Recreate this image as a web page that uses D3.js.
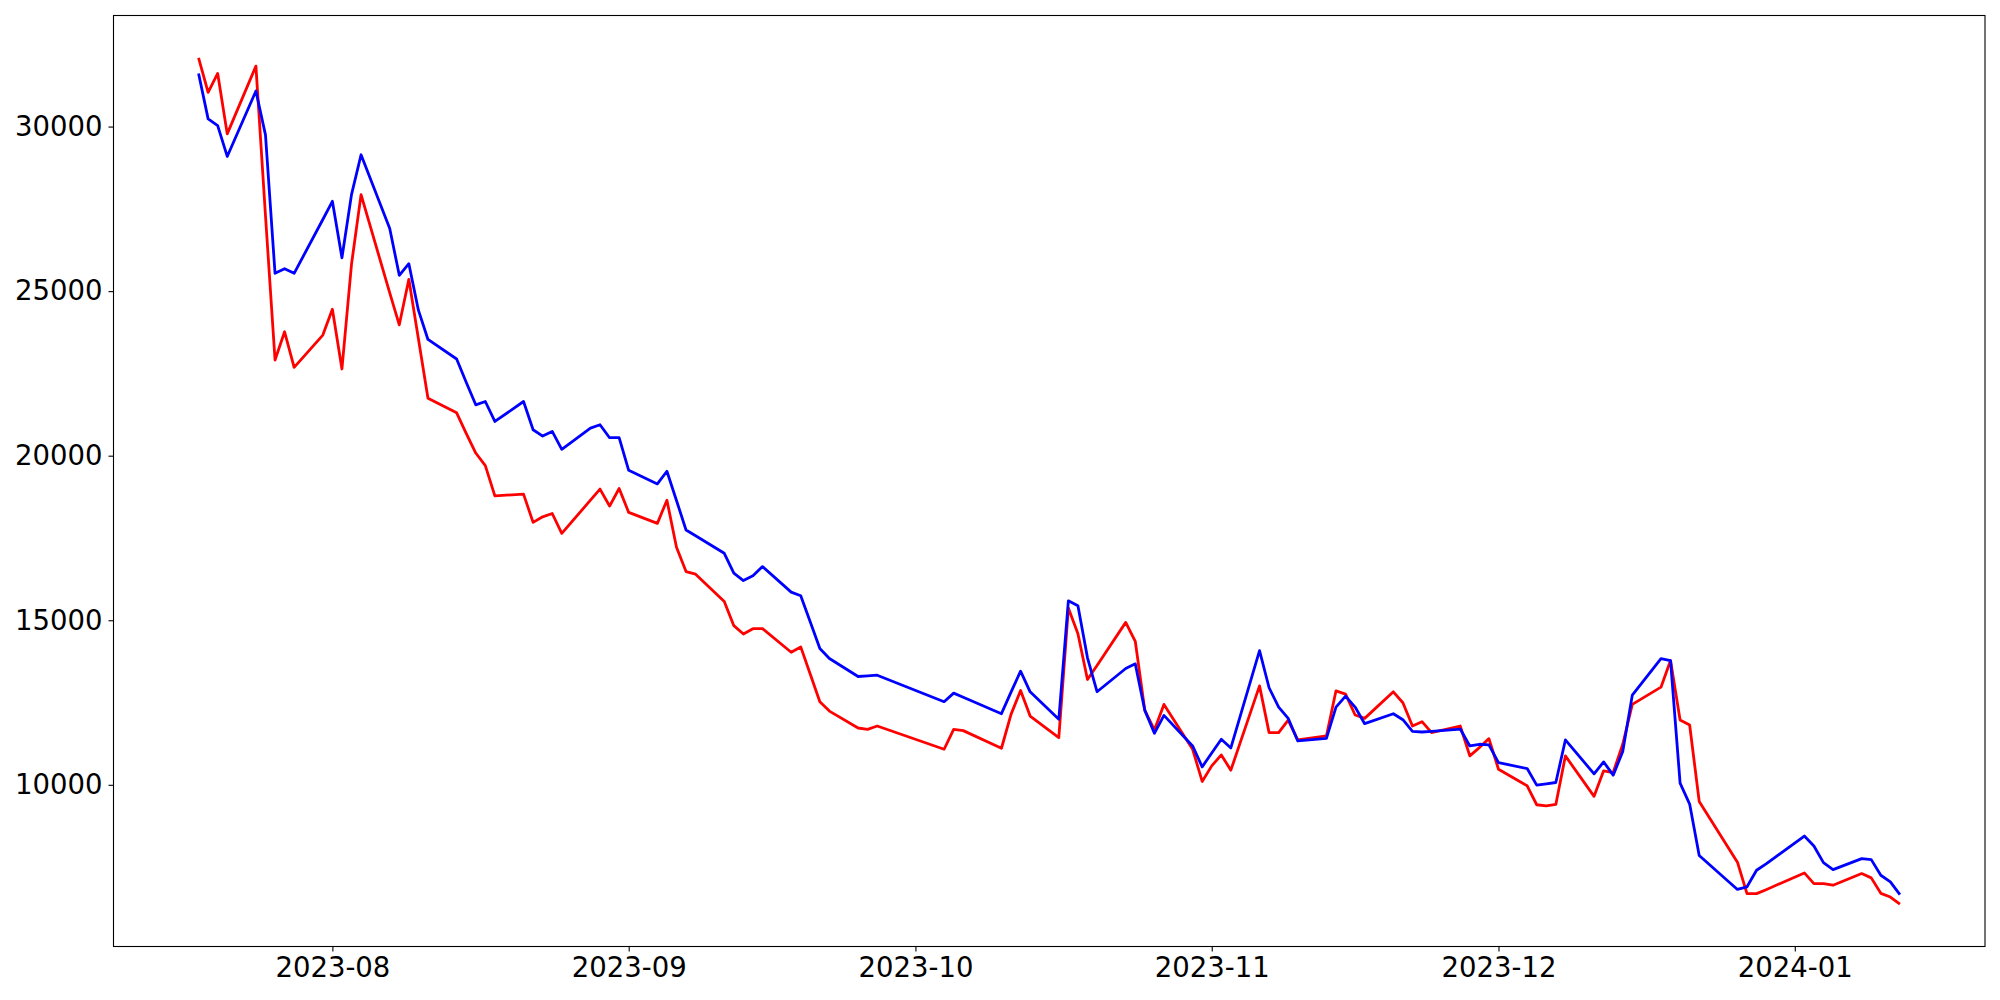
<!DOCTYPE html>
<html>
<head>
<meta charset="utf-8">
<script src="https://cdn.jsdelivr.net/npm/d3@7"></script>
<style>
  body { margin: 0; background: #ffffff; }
  svg text { font-family: "DejaVu Sans", sans-serif; }
</style>
</head>
<body>
<svg id="chart" width="2000" height="1000"></svg>
<script>
// ---- data ----
const dates = [
  "2023-07-18","2023-07-19","2023-07-20","2023-07-21","2023-07-24","2023-07-25","2023-07-26","2023-07-27","2023-07-28","2023-07-31",
  "2023-08-01","2023-08-02","2023-08-03","2023-08-04","2023-08-07","2023-08-08","2023-08-09","2023-08-10","2023-08-11","2023-08-14",
  "2023-08-15","2023-08-16","2023-08-17","2023-08-18","2023-08-21","2023-08-22","2023-08-23","2023-08-24","2023-08-25","2023-08-28",
  "2023-08-29","2023-08-30","2023-08-31","2023-09-01","2023-09-04","2023-09-05","2023-09-06","2023-09-07","2023-09-08","2023-09-11",
  "2023-09-12","2023-09-13","2023-09-14","2023-09-15","2023-09-18","2023-09-19","2023-09-20","2023-09-21","2023-09-22","2023-09-25",
  "2023-09-26","2023-09-27","2023-10-04","2023-10-05","2023-10-06","2023-10-10","2023-10-11","2023-10-12","2023-10-13","2023-10-16",
  "2023-10-17","2023-10-18","2023-10-19","2023-10-20","2023-10-23","2023-10-24","2023-10-25","2023-10-26","2023-10-27","2023-10-30",
  "2023-10-31","2023-11-01","2023-11-02","2023-11-03","2023-11-06","2023-11-07","2023-11-08","2023-11-09","2023-11-10","2023-11-13",
  "2023-11-14","2023-11-15","2023-11-16","2023-11-17","2023-11-20","2023-11-21","2023-11-22","2023-11-23","2023-11-24","2023-11-27",
  "2023-11-28","2023-11-29","2023-11-30","2023-12-01","2023-12-04","2023-12-05","2023-12-06","2023-12-07","2023-12-08","2023-12-11",
  "2023-12-12","2023-12-13","2023-12-14","2023-12-15","2023-12-18","2023-12-19","2023-12-20","2023-12-21","2023-12-22","2023-12-26",
  "2023-12-27","2023-12-28","2023-12-29","2024-01-02","2024-01-03","2024-01-04","2024-01-05","2024-01-08","2024-01-09","2024-01-10",
  "2024-01-11","2024-01-12"
];

const redValues = [
  32089,31038,31613,29779,31837,27297,22907,23764,22684,23664,
  24451,22635,25814,27933,24945,23976,25359,23553,21745,21303,
  20680,20081,19700,18780,18831,17973,18143,18244,17640,18648,
  18985,18470,19003,18277,17944,18648,17217,16480,16400,15571,
  14835,14583,14744,14744,14028,14190,13360,12525,12240,11726,
  11686,11787,11081,11686,11646,11111,12140,12866,12089,11435,
  15370,14592,13200,13624,14935,14360,12261,11666,12443,11081,
  10102,10575,10908,10445,13006,11585,11585,11968,11363,11484,
  12856,12755,12120,12019,12826,12493,11787,11918,11585,11787,
  10878,11131,11403,10474,9969,9394,9363,9404,10878,9649,
  10424,10373,11232,12443,12967,13775,11968,11817,9496,7650,
  6693,6693,6814,7323,6999,6999,6949,7303,7172,6703,
  6590,6373
];

const blueValues = [
  31613,30233,30030,29092,31081,29748,25541,25681,25541,27176,
  27730,26014,27933,29143,26903,25480,25833,24421,23532,22938,
  22230,21546,21646,21040,21646,20787,20595,20737,20192,20837,
  20939,20546,20546,19557,19142,19527,18640,17741,17569,17035,
  16430,16206,16349,16630,15855,15743,14947,14139,13836,13291,
  13311,13331,12525,12785,12658,12161,12816,13452,12826,11990,
  15591,15440,13857,12828,13533,13675,12261,11565,12110,11181,
  10545,10969,11383,11121,14079,12949,12362,12019,11332,11413,
  12362,12695,12362,11857,12160,11978,11625,11605,11625,11695,
  11181,11232,11211,10676,10494,9989,10030,10070,11363,10334,
  10697,10293,11010,12725,13836,13775,10051,9415,7850,6821,
  6901,7403,7600,8444,8141,7636,7424,7757,7727,7252,
  7050,6666
];

const yTickValues = [10000, 15000, 20000, 25000, 30000];
const xTickLabels = ["2023-08", "2023-09", "2023-10", "2023-11", "2023-12", "2024-01"];

// ---- layout ----
const W = 2000, H = 1000;
const plot = { left: 113.5, right: 1985, top: 15.5, bottom: 946.5 };
const FONT = 27.5;

const parse = d3.timeParse("%Y-%m-%d");
const parseMonth = d3.timeParse("%Y-%m");
const xDates = dates.map(parse);

const svg = d3.select("#chart");
svg.append("rect").attr("width", W).attr("height", H).attr("fill", "#ffffff");

// x scale with matplotlib-like 5% margins
const tMin = d3.min(xDates).getTime(), tMax = d3.max(xDates).getTime();
const tPad = (tMax - tMin) * 0.05;
const x = d3.scaleTime()
  .domain([new Date(tMin - tPad), new Date(tMax + tPad)])
  .range([plot.left, plot.right]);

const allVals = redValues.concat(blueValues);
const vMin = d3.min(allVals), vMax = d3.max(allVals);
const vPad = (vMax - vMin) * 0.05;
const y = d3.scaleLinear()
  .domain([vMin - vPad, vMax + vPad])
  .range([plot.bottom, plot.top]);

// lines
const line = d3.line()
  .x(d => x(d.date))
  .y(d => y(d.value));

const series = [
  { name: "red", color: "#ff0000", values: redValues },
  { name: "blue", color: "#0000ff", values: blueValues }
];

const g = svg.append("g");
series.forEach(s => {
  const pts = xDates.map((d, i) => ({ date: d, value: s.values[i] }));
  g.append("path")
    .datum(pts)
    .attr("fill", "none")
    .attr("stroke", s.color)
    .attr("stroke-width", 2.8)
    .attr("stroke-linejoin", "round")
    .attr("stroke-linecap", "butt")
    .attr("d", line);
});

// axes
const xAxis = d3.axisBottom(x)
  .tickValues(xTickLabels.map(parseMonth))
  .tickFormat(d3.timeFormat("%Y-%m"))
  .tickSize(5)
  .tickPadding(6);

const yAxis = d3.axisLeft(y)
  .tickValues(yTickValues)
  .tickFormat(d3.format("d"))
  .tickSize(5)
  .tickPadding(6);

const gx = svg.append("g")
  .attr("transform", `translate(0,${plot.bottom})`)
  .call(xAxis);
const gy = svg.append("g")
  .attr("transform", `translate(${plot.left},0)`)
  .call(yAxis);

[gx, gy].forEach(a => {
  a.select(".domain").remove();
  a.selectAll(".tick line").attr("stroke", "#000").attr("stroke-width", 1.1);
  a.selectAll(".tick text")
    .attr("fill", "#000")
    .style("font-size", FONT + "px")
    .style("font-family", '"DejaVu Sans", sans-serif');
});

// frame (all four spines)
svg.append("rect")
  .attr("x", plot.left)
  .attr("y", plot.top)
  .attr("width", plot.right - plot.left)
  .attr("height", plot.bottom - plot.top)
  .attr("fill", "none")
  .attr("stroke", "#000")
  .attr("stroke-width", 1.1);
</script>
</body>
</html>
